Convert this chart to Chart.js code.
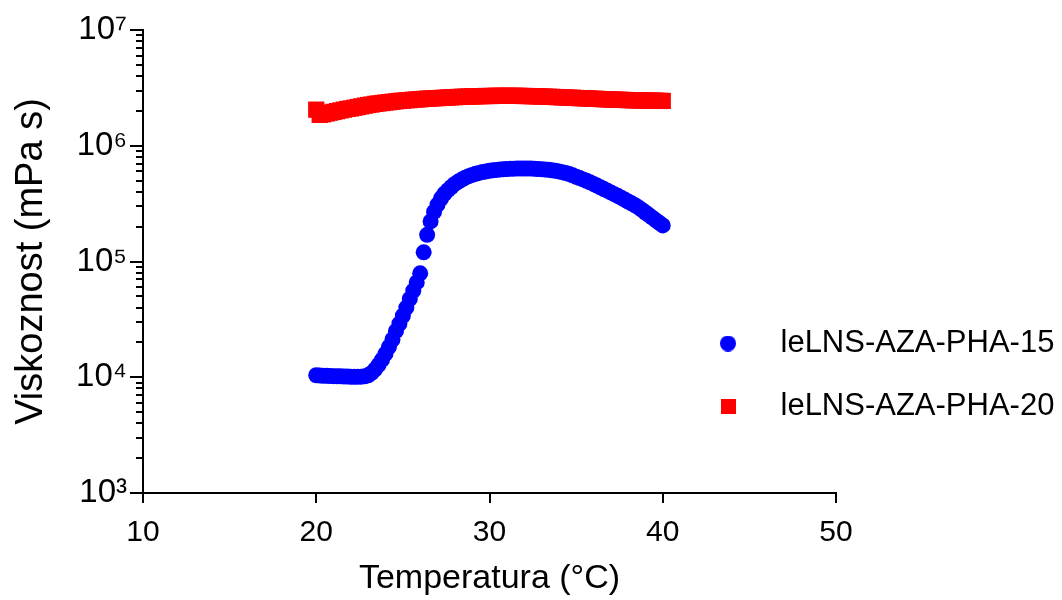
<!DOCTYPE html>
<html>
<head>
<meta charset="utf-8">
<script src="https://cdn.jsdelivr.net/npm/chart.js@4.4.1/dist/chart.umd.min.js"></script>
<style>
  html, body { margin: 0; padding: 0; background: #ffffff; }
  #wrap { width: 1062px; height: 600px; position: relative; }
</style>
</head>
<body>
<div id="wrap"><canvas id="c" width="1062" height="600"></canvas></div>
<script>
// ---- data ----
const seriesLabels = ['leLNS-AZA-PHA-15', 'leLNS-AZA-PHA-20'];

const temps = [20.0, 20.2, 20.4, 20.6, 20.8, 21.0, 21.2, 21.4, 21.6, 21.8,
  22.0, 22.2, 22.4, 22.6, 22.8, 23.0, 23.2, 23.4, 23.6, 23.8,
  24.0, 24.2, 24.4, 24.6, 24.8, 25.0, 25.2, 25.4, 25.6, 25.8,
  26.0, 26.2, 26.4, 26.6, 26.8, 27.0, 27.2, 27.4, 27.6, 27.8,
  28.0, 28.2, 28.4, 28.6, 28.8, 29.0, 29.2, 29.4, 29.6, 29.8,
  30.0, 30.2, 30.4, 30.6, 30.8, 31.0, 31.2, 31.4, 31.6, 31.8,
  32.0, 32.2, 32.4, 32.6, 32.8, 33.0, 33.2, 33.4, 33.6, 33.8,
  34.0, 34.2, 34.4, 34.6, 34.8, 35.0, 35.2, 35.4, 35.6, 35.8,
  36.0, 36.2, 36.4, 36.6, 36.8, 37.0, 37.2, 37.4, 37.6, 37.8,
  38.0, 38.2, 38.4, 38.6, 38.8, 39.0, 39.2, 39.4, 39.6, 39.8, 40.0];

const viscBlue = [10400, 10350, 10300, 10280, 10250, 10220, 10200, 10180, 10150, 10130,
  10100, 10100, 10100, 10120, 10200, 10400, 10900, 11700, 12800, 14200,
  16000, 18300, 21200, 25000, 29000, 34000, 40000, 47500, 56000, 66000,
  79000, 120000, 170000, 222000, 268000, 310000, 350000, 385000, 413000, 440000,
  468000, 490000, 510000, 530000, 546000, 560000, 572000, 582000, 592000, 600000,
  607000, 613000, 618000, 622000, 626000, 630000, 632000, 634000, 635000, 636000,
  636000, 636000, 635000, 633000, 630000, 627000, 623000, 619000, 614000, 608000,
  600000, 591000, 581000, 569000, 555000, 540000, 526000, 512000, 498000, 483000,
  468000, 453000, 438000, 423000, 409000, 395000, 382000, 369000, 356000, 343000,
  330000, 318000, 306000, 293000, 279000, 265000, 252000, 239000, 227000, 216000, 205000];

const viscRed = [2050000, 1850000, 1870000, 1900000, 1930000, 1960000, 1990000, 2020000, 2050000, 2080000,
  2100000, 2130000, 2160000, 2190000, 2220000, 2250000, 2270000, 2300000, 2320000, 2340000,
  2360000, 2380000, 2400000, 2420000, 2440000, 2450000, 2470000, 2480000, 2500000, 2510000,
  2520000, 2540000, 2550000, 2560000, 2570000, 2580000, 2590000, 2600000, 2610000, 2620000,
  2630000, 2640000, 2650000, 2655000, 2660000, 2670000, 2675000, 2680000, 2685000, 2690000,
  2690000, 2695000, 2700000, 2700000, 2700000, 2700000, 2700000, 2700000, 2700000, 2695000,
  2690000, 2688000, 2684000, 2678000, 2670000, 2663000, 2657000, 2650000, 2643000, 2636000,
  2628000, 2620000, 2612000, 2604000, 2596000, 2588000, 2580000, 2572000, 2564000, 2556000,
  2548000, 2540000, 2532000, 2525000, 2518000, 2511000, 2504000, 2498000, 2492000, 2486000,
  2480000, 2475000, 2470000, 2466000, 2462000, 2458000, 2454000, 2450000, 2447000, 2444000, 2440000];

const xTicks = [10, 20, 30, 40, 50];
const yMajorTicks = [1e3, 1e4, 1e5, 1e6, 1e7];
const yTickLabels = ['10\u00B3', '10\u2074', '10\u2075', '10\u2076', '10\u2077'];
const yMinorMult = [2, 3, 4, 5, 6, 7, 8, 9];

const xTitle = 'Temperatura (\u00B0C)';
const yTitle = 'Viskoznost (mPa s)';

// ---- chart ----
Chart.defaults.font.family = "'Liberation Sans', Arial, sans-serif";
Chart.defaults.color = '#000000';

const toPoints = (xs, ys) => xs.map((x, i) => ({ x: x, y: ys[i] }));

function legendMarker(shape, color, size) {
  const c = document.createElement('canvas');
  c.width = size; c.height = size;
  const g = c.getContext('2d');
  g.fillStyle = color;
  if (shape === 'circle') {
    g.beginPath(); g.arc(size / 2, size / 2, size / 2, 0, Math.PI * 2); g.fill();
  } else {
    g.fillRect(0, 0, size, size);
  }
  return c;
}
const legendMarkers = [legendMarker('circle', '#0000ff', 16), legendMarker('rect', '#ff0000', 15)];

const minorTickValues = [];
for (let e = 3; e < 7; e++) yMinorMult.forEach(m => minorTickValues.push(m * Math.pow(10, e)));

const legendPlacer = {
  id: 'legendPlacer',
  afterLayout(chart) {
    const lg = chart.legend;
    if (!lg) return;
    lg.left = 659; lg.top = 296; lg.right = 1062; lg.bottom = 600;
    lg.width = lg.right - lg.left; lg.height = lg.bottom - lg.top;
  }
};

new Chart(document.getElementById('c'), {
  type: 'scatter',
  data: {
    datasets: [
      {
        label: seriesLabels[0],
        data: toPoints(temps, viscBlue),
        pointStyle: 'circle',
        pointRadius: 8,
        pointHoverRadius: 8,
        borderWidth: 0,
        backgroundColor: '#0000ff',
        borderColor: '#0000ff'
      },
      {
        label: seriesLabels[1],
        data: toPoints(temps, viscRed),
        pointStyle: 'rect',
        pointRadius: 11.5,
        pointHoverRadius: 11.5,
        borderWidth: 0,
        backgroundColor: '#ff0000',
        borderColor: '#ff0000'
      }
    ]
  },
  options: {
    responsive: false,
    animation: false,
    events: [],
    layout: { padding: { top: 30, right: 226, bottom: 0, left: 0 } },
    plugins: {
      tooltip: { enabled: false },
      legend: {
        position: 'chartArea',
        align: 'start',
        labels: {
          usePointStyle: true,
          pointStyleWidth: 74,
          boxHeight: 16,
          padding: 32,
          font: { size: 31 },
          color: '#000000',
          generateLabels(chart) {
            const items = Chart.defaults.plugins.legend.labels.generateLabels(chart);
            items.forEach(it => { it.pointStyle = legendMarkers[it.datasetIndex]; });
            return items;
          }
        }
      }
    },
    scales: {
      x: {
        type: 'linear',
        position: 'bottom',
        min: xTicks[0],
        max: xTicks[xTicks.length - 1],
        afterFit(scale) { scale.height = 107; },
        afterBuildTicks(scale) { scale.ticks = xTicks.map(v => ({ value: v })); },
        ticks: { font: { size: 30 }, color: '#000000', padding: 12, autoSkip: false, maxRotation: 0 },
        grid: { display: true, drawOnChartArea: false, drawTicks: true, tickLength: 10, color: '#000000', tickColor: '#000000', lineWidth: 2, tickWidth: 2 },
        border: { display: true, color: '#000000', width: 2 },
        title: { display: true, text: xTitle, font: { size: 34 }, color: '#000000', padding: { top: 0, bottom: 1 } }
      },
      y: {
        type: 'logarithmic',
        position: 'left',
        min: yMajorTicks[0],
        max: yMajorTicks[yMajorTicks.length - 1],
        afterFit(scale) { scale.width = 143; },
        afterBuildTicks(scale) { scale.ticks = yMajorTicks.map(v => ({ value: v, major: true })); },
        ticks: {
          font: { size: 33 }, color: '#000000', padding: 3, autoSkip: false,
          callback(value) { const i = yMajorTicks.indexOf(value); return i >= 0 ? yTickLabels[i] : ''; }
        },
        grid: { display: true, drawOnChartArea: false, drawTicks: true, tickLength: 13, color: '#000000', tickColor: '#000000', lineWidth: 2, tickWidth: 2 },
        border: { display: true, color: '#000000', width: 2 },
        title: { display: true, text: yTitle, font: { size: 38 }, color: '#000000', padding: { top: 9, bottom: 0 } }
      },
      yMinor: {
        type: 'logarithmic',
        position: { x: xTicks[0] },
        min: yMajorTicks[0],
        max: yMajorTicks[yMajorTicks.length - 1],
        afterBuildTicks(scale) { scale.ticks = minorTickValues.map(v => ({ value: v })); },
        ticks: { display: false },
        grid: { display: true, drawOnChartArea: false, drawTicks: true, tickLength: 7, color: '#000000', tickColor: '#000000', lineWidth: 2, tickWidth: 2 },
        border: { display: false }
      }
    }
  },
  plugins: [legendPlacer]
});
</script>
</body>
</html>
